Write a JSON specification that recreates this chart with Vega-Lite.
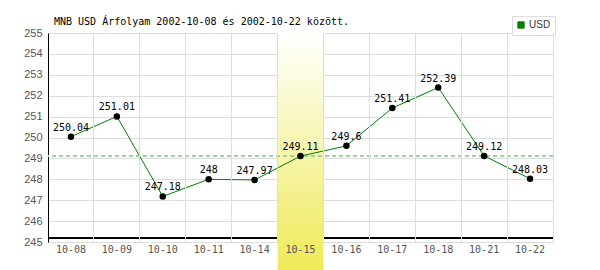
{
  "$schema": "https://vega.github.io/schema/vega-lite/v6.json",
  "width": 505,
  "height": 209,
  "autosize": "none",
  "padding": {"left": 48, "top": 33, "right": 47, "bottom": 28},
  "background": "white",
  "config": {
    "view": {"stroke": null},
    "axis": {"gridColor": "#dddddd", "gridWidth": 1},
    "axisY": {
      "title": null,
      "labelFont": "Liberation Sans",
      "labelFontSize": 11,
      "labelColor": "#555555",
      "labelPadding": 6,
      "labelOverlap": false,
      "tickCount": 12,
      "ticks": false,
      "domain": true,
      "domainColor": "#000000",
      "domainWidth": 1,
      "grid": true
    }
  },
  "title": {
    "text": "MNB USD Árfolyam 2002-10-08 és 2002-10-22 között.",
    "anchor": "start",
    "frame": "group",
    "dx": 6,
    "offset": -19,
    "baseline": "alphabetic",
    "font": "DejaVu Sans Mono",
    "fontSize": 10,
    "fontWeight": "normal",
    "color": "#000000"
  },
  "datasets": {
    "rates": [
      {"d": "10-08", "v": 250.04, "lbl": "250.04"},
      {"d": "10-09", "v": 251.01, "lbl": "251.01"},
      {"d": "10-10", "v": 247.18, "lbl": "247.18"},
      {"d": "10-11", "v": 248, "lbl": "248"},
      {"d": "10-14", "v": 247.97, "lbl": "247.97"},
      {"d": "10-15", "v": 249.11, "lbl": "249.11"},
      {"d": "10-16", "v": 249.6, "lbl": "249.6"},
      {"d": "10-17", "v": 251.41, "lbl": "251.41"},
      {"d": "10-18", "v": 252.39, "lbl": "252.39"},
      {"d": "10-21", "v": 249.12, "lbl": "249.12"},
      {"d": "10-22", "v": 248.03, "lbl": "248.03"}
    ],
    "band": [
      {"d": "10-15", "top": 255, "bottom": 243.6}
    ]
  },
  "layer": [
    {
      "data": {"name": "rates"},
      "mark": {"type": "rule", "color": "#000000", "strokeWidth": 1},
      "encoding": {
        "y": {
          "datum": 245.18,
          "type": "quantitative",
          "scale": {"domain": [245, 255], "nice": false, "zero": false},
          "axis": {"values": [245, 246, 247, 248, 249, 250, 251, 252, 253, 254, 255], "tickCount": 12, "labelOverlap": false}
        }
      }
    },
    {
      "data": {"name": "band"},
      "mark": {
        "type": "rect",
        "fill": {
          "gradient": "linear",
          "x1": 0, "y1": 0, "x2": 0, "y2": 1,
          "stops": [
            {"offset": 0, "color": "#ffffff"},
            {"offset": 1, "color": "#eeea58"}
          ]
        }
      },
      "encoding": {
        "x": {
          "field": "d",
          "type": "ordinal",
          "scale": {"domain": ["10-08", "10-09", "10-10", "10-11", "10-14", "10-15", "10-16", "10-17", "10-18", "10-21", "10-22"], "paddingInner": 0, "paddingOuter": 0},
          "axis": {
            "title": null,
            "labelAngle": 0,
            "labelFont": "DejaVu Sans Mono",
            "labelFontSize": 10,
            "labelColor": "#555555",
            "labelPadding": 2,
            "ticks": false,
            "domain": false,
            "grid": true,
            "bandPosition": 1,
            "zindex": 1
          }
        },
        "y": {"field": "top", "type": "quantitative"},
        "y2": {"field": "bottom"}
      }
    },
    {
      "data": {"name": "rates"},
      "mark": {"type": "rule", "color": "#a3cfa3", "strokeWidth": 1, "strokeDash": [4, 3]},
      "encoding": {"y": {"datum": 249.11, "type": "quantitative"}}
    },
    {
      "data": {"name": "rates"},
      "mark": {"type": "line", "strokeWidth": 1},
      "encoding": {
        "x": {"field": "d", "type": "ordinal"},
        "y": {"field": "v", "type": "quantitative"},
        "color": {
          "datum": "USD",
          "type": "nominal",
          "scale": {"range": ["#008000"]},
          "legend": {
            "title": null,
            "orient": "none",
            "legendX": 464,
            "legendY": -17,
            "fillColor": "#ffffff",
            "strokeColor": "#dddddd",
            "padding": 4,
            "symbolType": "square",
            "symbolSize": 40,
            "symbolFillColor": "#008000",
            "symbolStrokeColor": "#004000",
            "symbolStrokeWidth": 1,
            "labelFont": "Liberation Sans",
            "labelFontSize": 10,
            "labelColor": "#333333",
            "labelOffset": 3
          }
        }
      }
    },
    {
      "data": {"name": "rates"},
      "mark": {"type": "point", "filled": true, "color": "#000000", "size": 42, "opacity": 1},
      "encoding": {
        "x": {"field": "d", "type": "ordinal"},
        "y": {"field": "v", "type": "quantitative"}
      }
    },
    {
      "data": {"name": "rates"},
      "mark": {
        "type": "text",
        "font": "DejaVu Sans Mono",
        "fontSize": 10,
        "color": "#000000",
        "baseline": "alphabetic",
        "dy": -6
      },
      "encoding": {
        "x": {"field": "d", "type": "ordinal"},
        "y": {"field": "v", "type": "quantitative"},
        "text": {"field": "lbl", "type": "nominal"}
      }
    }
  ]
}
